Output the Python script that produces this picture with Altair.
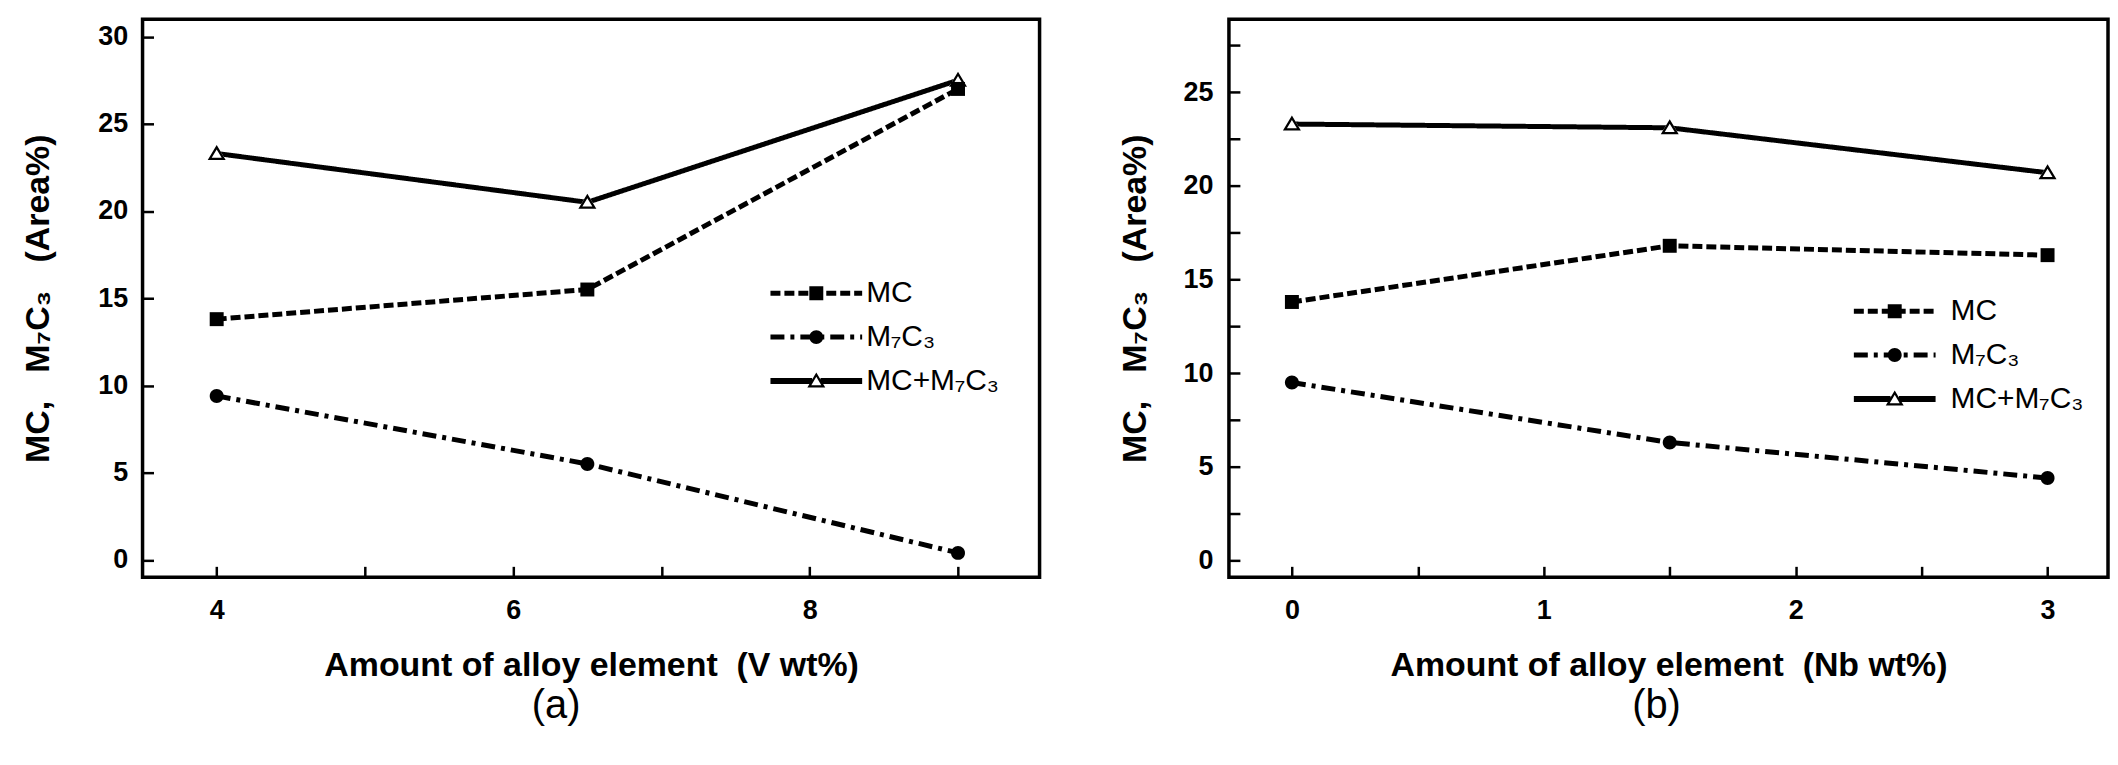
import altair as alt
import pandas as pd

FONT = "Liberation Sans"

# ---- shared series definitions ----
series = ["MC", "M₇C₃", "MC+M₇C₃"]
marker_keys = ["square", "circle", "triangle"]
dash_patterns = [[10, 4], [14, 6, 4, 6], [1, 0]]
line_widths = [5, 5, 6]

# ---- panel (a): V additions ----
v_x = [4, 6.5, 9]
v_mc = [13.8, 15.5, 27.0]
v_m7c3 = [9.4, 5.5, 0.4]
v_sum = [23.3, 20.5, 27.5]
v_xticks = [4, 5, 6, 7, 8, 9]
v_yticks = [0, 5, 10, 15, 20, 25, 30]

# ---- panel (b): Nb additions ----
nb_x = [0, 1.5, 3]
nb_mc = [13.8, 16.8, 16.3]
nb_m7c3 = [9.5, 6.3, 4.4]
nb_sum = [23.3, 23.1, 20.7]
nb_xticks = [0, 0.5, 1, 1.5, 2, 2.5, 3]
nb_yticks = [0, 2.5, 5, 7.5, 10, 12.5, 15, 17.5, 20, 22.5, 25, 27.5]

Y_TITLE = "MC,\u00a0\u00a0\u00a0M₇C₃\u00a0\u00a0\u00a0(Area%)"

# ---- marker glyphs (symbol units; size 100 -> 1 unit = 5 px) ----
SYM_SIZE = 100
UNIT = 5.0
SQUARE = "M-1.4,-1.4H1.4V1.4H-1.4Z"
CIRCLE = "M1.4,0A1.4,1.4 0 1,1 -1.4,0A1.4,1.4 0 1,1 1.4,0Z"
TRI_OUT = "M0,-1.7L1.8,1.3L-1.8,1.3Z"
TRI_IN = "M0,-0.82L-1.0,0.85L1.0,0.85Z"
TRI_RING = TRI_OUT + " " + TRI_IN
marker_paths = [SQUARE, CIRCLE, TRI_RING]


def dash_rects(pattern_px, half, thick, cut=0.0):
    """Legend line sample drawn as filled dash rectangles (symbol units)."""
    pat = [p / UNIT for p in pattern_px]
    out = []
    x, i = -half, 0
    while x < half:
        seg = pat[i % len(pat)]
        if i % 2 == 0:
            a, b = x, min(x + seg, half)
            pieces = [(a, b)]
            if cut > 0:
                pieces = []
                if a < -cut:
                    pieces.append((a, min(b, -cut)))
                if b > cut:
                    pieces.append((max(a, cut), b))
            for p, q in pieces:
                if q - p > 0.05:
                    out.append(f"M{p:.2f},{-thick:.2f}H{q:.2f}V{thick:.2f}H{p:.2f}Z")
        x += seg
        i += 1
    return " ".join(out)


def legend_paths(half_px):
    half = half_px / UNIT
    return [
        dash_rects([10, 4], half, 0.5) + " " + SQUARE,
        dash_rects([14, 6, 4, 6], half, 0.5) + " " + CIRCLE,
        dash_rects([200, 1], half, 0.6, cut=0.85) + " " + TRI_RING,
    ]


def panel(xs, mc, m7, tot, xdom, ydom, xticks, xstep, yticks, ystep, xtitle,
          caption, width, height, leg_x, leg_y, half_px, lab_off,
          ytitle_pad, ylab_pad, cap_dx):
    rows = []
    for name, key, vals in zip(series, marker_keys, [mc, m7, tot]):
        for xv, yv in zip(xs, vals):
            rows.append({"x": xv, "value": yv, "series": name, "marker": key})
    df = pd.DataFrame(rows)

    common_axis = dict(
        domain=False, grid=False, ticks=True, tickSize=11, tickWidth=2.5,
        tickColor="black", offset=-11, labelFont=FONT, labelFontSize=27,
        labelFontWeight="bold", labelColor="black", labelOverlap=False,
        titleFont=FONT, titleFontSize=34, titleFontWeight="bold",
        titleColor="black",
    )
    x_enc = alt.X(
        "x:Q",
        scale=alt.Scale(domain=xdom, nice=False, zero=False),
        axis=alt.Axis(
            values=xticks,
            labelExpr=f"datum.value % {xstep} === 0 ? format(datum.value, 'd') : ''",
            title=xtitle, labelPadding=20, titlePadding=26, **common_axis),
    )
    y_enc = alt.Y(
        "value:Q",
        scale=alt.Scale(domain=ydom, nice=False, zero=False),
        axis=alt.Axis(
            values=yticks,
            labelExpr=f"datum.value % {ystep} === 0 ? format(datum.value, 'd') : ''",
            title=Y_TITLE, labelPadding=ylab_pad, titlePadding=ytitle_pad,
            **common_axis),
    )

    base = alt.Chart(df)
    lines = base.mark_line(color="black").encode(
        x=x_enc,
        y=y_enc,
        strokeDash=alt.StrokeDash(
            "series:N", scale=alt.Scale(domain=series, range=dash_patterns),
            legend=None),
        strokeWidth=alt.StrokeWidth(
            "series:N", scale=alt.Scale(domain=series, range=line_widths),
            legend=None),
    )
    # white interior behind the hollow triangles
    tri_bg = base.transform_filter(alt.datum.marker == "triangle").mark_point(
        shape=TRI_OUT, filled=True, color="white", size=SYM_SIZE, opacity=1
    ).encode(x=x_enc, y=y_enc)

    points = base.mark_point(size=SYM_SIZE, filled=True, color="black",
                             opacity=1).encode(
        x=x_enc,
        y=y_enc,
        shape=alt.Shape("marker:N",
                        scale=alt.Scale(domain=marker_keys, range=marker_paths),
                        legend=None),
    )
    # legend carrier: invisible points whose legend symbols show line + marker
    legend_pts = base.mark_point(size=SYM_SIZE, filled=True, color="black",
                                 opacity=0).encode(
        x=x_enc,
        y=y_enc,
        shape=alt.Shape(
            "series:N",
            scale=alt.Scale(domain=series, range=legend_paths(half_px)),
            legend=alt.Legend(
                orient="none", legendX=leg_x, legendY=leg_y, title=None,
                padding=0, symbolSize=SYM_SIZE, symbolFillColor="black",
                symbolStrokeWidth=0, symbolOpacity=1, labelFont=FONT,
                labelFontSize=30, labelColor="black", labelOffset=lab_off,
                labelLimit=400, rowPadding=14,
            ),
        ),
    )
    return alt.layer(lines, tri_bg, points, legend_pts).resolve_scale(
        shape="independent"
    ).properties(
        width=width, height=height,
        title=alt.TitleParams(caption, orient="bottom", font=FONT, fontSize=40,
                              fontWeight="normal", color="black", offset=3,
                              anchor="middle", frame="group", dx=cap_dx),
    )


pa = panel(v_x, v_mc, v_m7c3, v_sum, [3.5, 9.55], [-1, 31], v_xticks, 2,
           v_yticks, 5, "Amount of alloy element\u00a0\u00a0(V wt%)", "(a)",
           900, 560, 661, 260, 46, 35, 42, 15, -35)
pb = panel(nb_x, nb_mc, nb_m7c3, nb_sum, [-0.25, 3.24], [-0.9, 28.9],
           nb_xticks, 1, nb_yticks, 5,
           "Amount of alloy element\u00a0\u00a0(Nb wt%)", "(b)",
           882, 560, 653, 278, 41, 41, 31, 16, -12)

chart = alt.hconcat(pa, pb, spacing=75).resolve_scale(
    x="independent", y="independent", strokeDash="independent",
    shape="independent", strokeWidth="independent",
).configure_view(stroke="black", strokeWidth=3.5).properties(
    padding={"left": 12, "top": 8, "right": 0, "bottom": 0},
    background="white",
)

chart.save("out.html", embed_options={"renderer": "svg", "actions": False})
